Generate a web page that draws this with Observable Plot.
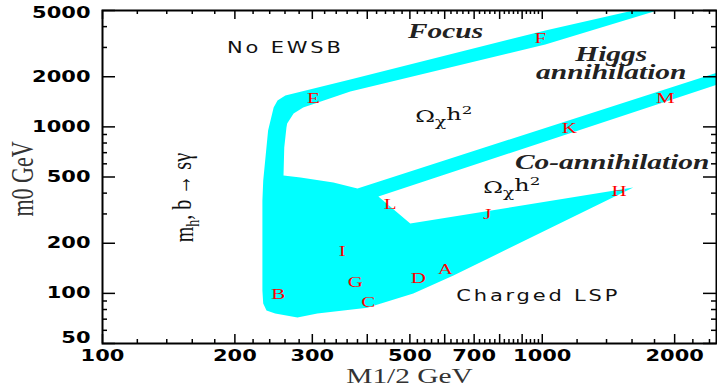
<!DOCTYPE html>
<html><head><meta charset="utf-8">
<script src="https://cdn.jsdelivr.net/npm/d3@7"></script>
<script src="https://cdn.jsdelivr.net/npm/@observablehq/plot@0.6"></script>
<style>body{margin:0;background:#fff;}</style>
</head><body><div id="chart"></div>
<script>
// ---- axis ticks ----
const xTickLabels = [100, 200, 300, 500, 700, 1000, 2000];
const yTickLabels = [100, 200, 500, 1000, 2000];
const yTickLabelBottom = [50];
const yTickLabelTop = [5000];
const xMajorTicks = [100, 200, 300, 400, 500, 600, 700, 800, 900, 1000, 2000];
const xMinorTicks = [120,140,160,180,220,240,260,280,320,340,360,380,420,440,460,480,520,540,560,580,620,640,660,680,720,740,760,780,820,840,860,880,920,940,960,980,1200,1400,1600,1800,2200,2400];
const yMajorTicks = [50, 100, 200, 500, 1000, 2000, 5000];
const yMinorTicks = [60, 70, 80, 90, 300, 400, 600, 700, 800, 900, 3000, 4000];

// ---- allowed (cyan) region outline: M1/2 and m0 in GeV ----
const regionM12 = [1610,1826,1016,366,286,272,263,262,259,258,282,335,380,2499,2499,424,468,501,1610,628,509,400,308,277.5,247,236,232,231,231,231,232,238,245,250,260.5,366,1016];
const regionM0  = [5000,5000,3125,1632,1307,1203,1048,992,752,510,497,463,427,2121,1797,382,306,263,432,128,100,82,75.7,71.7,75.7,78.9,86.9,104,238.6,361,476,951,1307,1440,1543,1925,3793];

// ---- benchmark points ----
const pointLabels = ["A","B","C","D","E","F","G","H","I","J","K","L","M"];
const pointM12 = [602, 251, 402, 523, 301.6, 990, 376, 1496, 351, 750, 1152, 451, 1904];
const pointM0  = [139, 98.5, 88, 123, 1481, 3396, 116, 409, 178.5, 298, 978, 342, 1481];

// ---- region annotations ----
const regionNames = ["Focus", "Higgs\nannihilation", "Co-annihilation"];
const regionNameM12 = [602, 1435, 1442];
const regionNameM0 = [3724, 2370, 602.6];
const plainNames = ["No EWSB", "Charged LSP"];
const plainNameM12 = [260.5, 979];
const plainNameM0 = [2956, 95.8];
const omegaLabels = ["Ωχh2", "Ωχh2"];
const omegaM12 = [514.5, 734.5];
const omegaM0 = [1161, 434.8];
const constraintLabel = ["mh, b → sγ"];
const constraintM12 = [153.6];
const constraintM0 = [376];
const xTitle = ["M1/2 GeV"];
const yTitle = ["m0 GeV"];

const W = 717, H = 391, mL = 102, mR = 1, mT = 10, mB = 48;
const fw = W - mL - mR, fh = H - mT - mB;
const yAxisStyle = {anchor: "left", tickSize: 0, tickPadding: 12, tickFormat: d => String(d), label: null, fontSize: 15, fontWeight: "bold", fontFamily: "DejaVu Sans", fill: "black"};

const chart = Plot.plot({
  width: W, height: H,
  marginLeft: mL, marginRight: mR, marginTop: mT, marginBottom: mB,
  style: {fontFamily: "DejaVu Sans", fontSize: "15px", color: "black", background: "white", overflow: "visible"},
  x: {type: "log", domain: [100, 2490]},
  y: {type: "log", domain: [50, 5000]},
  marks: [
    Plot.line(regionM12, {x: regionM12, y: regionM0, fill: "#00ffff", stroke: "none", clip: true}),
    // ticks (inward, mirrored)
    Plot.ruleX(xMajorTicks, {x: d => d, insetTop: fh - 9, stroke: "black", strokeWidth: 1.5}),
    Plot.ruleX(xMajorTicks, {x: d => d, insetBottom: fh - 9, stroke: "black", strokeWidth: 1.5}),
    Plot.ruleX(xMinorTicks, {x: d => d, insetTop: fh - 4, stroke: "black", strokeWidth: 1.5}),
    Plot.ruleX(xMinorTicks, {x: d => d, insetBottom: fh - 4, stroke: "black", strokeWidth: 1.5}),
    Plot.ruleY(yMajorTicks, {y: d => d, insetRight: fw - 13, stroke: "black", strokeWidth: 1.5}),
    Plot.ruleY(yMajorTicks, {y: d => d, insetLeft: fw - 13, stroke: "black", strokeWidth: 1.5}),
    Plot.ruleY(yMinorTicks, {y: d => d, insetRight: fw - 5, stroke: "black", strokeWidth: 1.5}),
    Plot.ruleY(yMinorTicks, {y: d => d, insetLeft: fw - 5, stroke: "black", strokeWidth: 1.5}),
    Plot.frame({stroke: "black", strokeWidth: 2}),
    Plot.axisX({ticks: xTickLabels, anchor: "bottom", tickSize: 0, tickPadding: 7, tickFormat: d => String(d), label: null, fontSize: 15, fontWeight: "bold", fontFamily: "DejaVu Sans", fill: "black"}),
    Plot.axisY({ticks: yTickLabels, ...yAxisStyle}),
    Plot.axisY({ticks: yTickLabelBottom, ...yAxisStyle, dy: -5}),
    Plot.axisY({ticks: yTickLabelTop, ...yAxisStyle, dy: 3}),
    Plot.text(xTitle, {text: d => d, frameAnchor: "bottom", textAnchor: "middle", lineAnchor: "middle", dy: 33, fontFamily: "Liberation Serif", fontSize: 21, fill: "#333"}),
    Plot.text(yTitle, {text: d => d, frameAnchor: "left", textAnchor: "middle", lineAnchor: "middle", dx: -80, dy: 2, rotate: -90, fontFamily: "Liberation Serif", fontSize: 22, fill: "#333"}),
    Plot.text(pointLabels, {x: pointM12, y: pointM0, text: d => d, fill: "#ff0000", fontFamily: "Liberation Serif", fontSize: 15}),
    Plot.text(regionNames, {x: regionNameM12, y: regionNameM0, text: d => d, lineHeight: 0.86, fill: "#222", fontFamily: "Liberation Serif", fontSize: 21, fontWeight: "bold", fontStyle: "italic"}),
    Plot.text(plainNames, {x: plainNameM12, y: plainNameM0, text: d => d, fill: "#111", fontFamily: "DejaVu Sans", fontSize: 15}),
    Plot.text(omegaLabels, {x: omegaM12, y: omegaM0, text: d => d, textAnchor: "start", fill: "#111", fontFamily: "DejaVu Serif", fontSize: 17}),
    Plot.text(constraintLabel, {x: constraintM12, y: constraintM0, text: d => d, rotate: -90, fill: "#111", fontFamily: "Liberation Serif", fontSize: 20})
  ]
});

const root = document.getElementById("chart");
root.append(chart);
const svg = root.querySelector("svg");

// rich text + spacing
d3.select(svg).selectAll("text").each(function () {
  const t = d3.select(this);
  const s = this.textContent;
  if (plainNames.includes(s)) t.attr("letter-spacing", "2px");
  if (s === omegaLabels[0]) {
    t.text("");
    t.append("tspan").text("Ω");
    t.append("tspan").attr("dy", "0.35em").attr("font-size", "78%").text("χ");
    t.append("tspan").attr("dy", "-0.35em").text("h");
    t.append("tspan").attr("dy", "-0.5em").attr("font-size", "70%").text("2");
  }
  if (s === constraintLabel[0]) {
    t.text("");
    t.append("tspan").text("m");
    t.append("tspan").attr("dy", "0.3em").attr("font-size", "70%").text("h");
    t.append("tspan").attr("dy", "-0.3em").text(", b → sγ");
  }
});

// horizontal stretch of all lettering (the reference is drawn wide)
const S = 1.4;
svg.querySelectorAll("text").forEach(t => {
  const r = t.getBoundingClientRect();
  const anchor = getComputedStyle(t).textAnchor;
  const rot = (t.getAttribute("transform") || "").includes("rotate");
  let ax = anchor === "end" ? r.right : anchor === "start" ? r.left : (r.left + r.right) / 2;
  if (rot) ax = (r.left + r.right) / 2;
  const m = t.parentNode.getScreenCTM();
  const axp = (ax - m.e) / m.a;
  const old = t.getAttribute("transform") || "";
  t.setAttribute("transform", `translate(${axp},0) scale(${S},1) translate(${-axp},0) ${old}`);
});
</script>
</body></html>
